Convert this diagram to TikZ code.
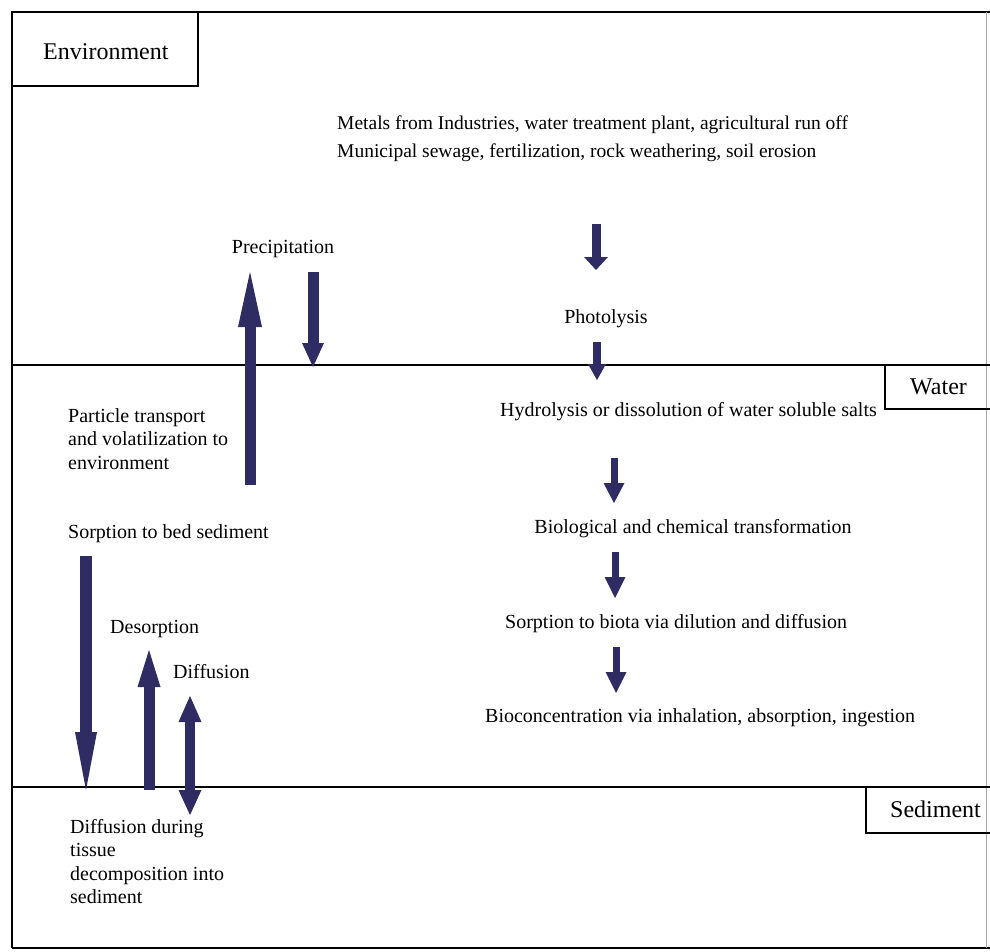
\documentclass[tikz,border=0pt]{standalone}
\usepackage{fontspec}
\setmainfont{Liberation Serif}
\usetikzlibrary{arrows.meta}
\definecolor{arrowc}{RGB}{46,44,98}
\newcommand\mlines[1]{\begin{tabular}[t]{@{}l@{}}#1\end{tabular}}
\tikzset{
  frame/.style={draw=black, line width=1.6pt},
  lab/.style={font=\fontsize{24}{28}\selectfont, inner sep=0pt, anchor=base west},
  txt/.style={font=\fontsize{20}{23.5}\selectfont, inner sep=0pt, anchor=base west},
  txtc/.style={font=\fontsize{20}{23.5}\selectfont, inner sep=0pt, anchor=base},
  fat/.style={draw=arrowc, line width=#1},
}
\begin{document}
\begin{tikzpicture}[x=1pt,y=-1pt]
\useasboundingbox (0,0) rectangle (990,952);
% frame
\draw[frame] (12,948) -- (12,12) -- (990,12);
\draw[frame] (12,948) -- (990,948);
\draw[draw=black!35, line width=1pt] (986,12) -- (986,948);
\draw[frame] (12,12) rectangle (198,86);
\draw[frame] (12,365) -- (990,365);
\draw[frame] (885,365) -- (885,409) -- (990,409);
\draw[frame] (12,787) -- (990,787);
\draw[frame] (866,787) -- (866,833) -- (990,833);
% labels
\node[lab] (env) at (43,60) {Environment};
\node[lab] (water) at (910,394) {Water};
\node[lab] (sed) at (890,817) {Sediment};
% texts
\node[txt, font=\fontsize{19.5}{27.5}\selectfont] (metals) at (337,130) {\mlines{Metals from Industries, water treatment plant, agricultural run off\\Municipal sewage, fertilization, rock weathering, soil erosion}};
\node[txtc] (precip) at (283,253) {Precipitation};
\node[txtc] (photo) at (606,323) {Photolysis};
\node[txt] (hydro) at (500,416) {Hydrolysis or dissolution of water soluble salts};
\node[txt] (particle) at (68,422) {\mlines{Particle transport\\and volatilization to\\environment}};
\node[txt] (sorbed) at (68,538) {Sorption to bed sediment};
\node[txtc] (bio) at (693,533) {Biological and chemical transformation};
\node[txt] (sorbiota) at (505,628) {Sorption to biota via dilution and diffusion};
\node[txt] (biocon) at (485,722) {Bioconcentration via inhalation, absorption, ingestion};
\node[txt] (desorp) at (110,633) {Desorption};
\node[txt] (diff) at (173,678) {Diffusion};
\node[txt] (diffdur) at (70,833) {\mlines{Diffusion during\\tissue\\decomposition into\\sediment}};
% arrow end points
\coordinate (a1s) at (250,485); \coordinate (a1e) at (250,272);
\coordinate (a2s) at (313,272); \coordinate (a2e) at (313,367);
\coordinate (a3s) at (596,224); \coordinate (a3e) at (596,270);
\coordinate (a4s) at (597,342); \coordinate (a4e) at (597,380);
\coordinate (a5s) at (614,458); \coordinate (a5e) at (614,503);
\coordinate (a6s) at (615,552); \coordinate (a6e) at (615,598);
\coordinate (a7s) at (616,647); \coordinate (a7e) at (616,693);
\coordinate (a8s) at (86,556);  \coordinate (a8e) at (86,790);
\coordinate (a9s) at (149,790); \coordinate (a9e) at (149,650);
\coordinate (a10s) at (190,696); \coordinate (a10e) at (190,815);
% arrows
\draw[fat=11pt, -{Triangle[width=24pt,length=55pt,line width=0pt]}] (a1s) -- (a1e);
\draw[fat=11pt, -{Triangle[width=22pt,length=24pt,line width=0pt]}] (a2s) -- (a2e);
\draw[fat=9pt, -{Triangle[width=24pt,length=13pt,line width=0pt]}] (a3s) -- (a3e);
\draw[fat=8pt, -{Triangle[width=18pt,length=16pt,line width=0pt]}] (a4s) -- (a4e);
\draw[fat=7pt, -{Triangle[width=21pt,length=20pt,line width=0pt]}] (a5s) -- (a5e);
\draw[fat=7pt, -{Triangle[width=21pt,length=21pt,line width=0pt]}] (a6s) -- (a6e);
\draw[fat=7pt, -{Triangle[width=21pt,length=21pt,line width=0pt]}] (a7s) -- (a7e);
\draw[fat=12pt, -{Triangle[width=22pt,length=58pt,line width=0pt]}] (a8s) -- (a8e);
\draw[fat=11pt, -{Triangle[width=23pt,length=37pt,line width=0pt]}] (a9s) -- (a9e);
\draw[fat=10pt, {Triangle[width=23pt,length=26pt,line width=0pt]}-{Triangle[width=23pt,length=25pt,line width=0pt]}] (a10s) -- (a10e);
\end{tikzpicture}
\end{document}
